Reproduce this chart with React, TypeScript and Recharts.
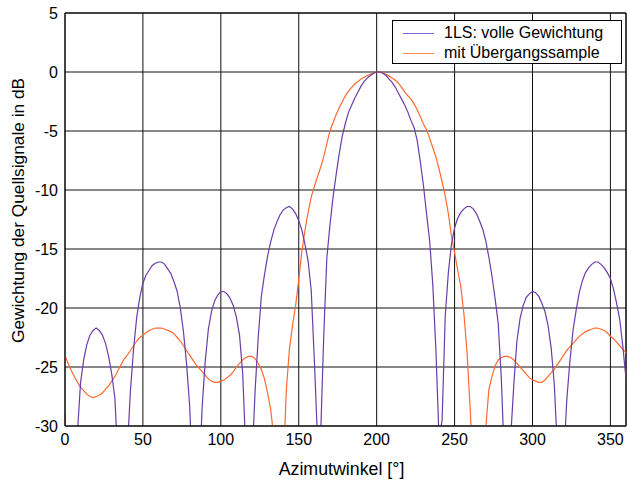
import {
  CartesianGrid,
  Legend,
  Line,
  LineChart,
  ReferenceLine,
  XAxis,
  YAxis,
} from "recharts";

// sampling grid of the azimuth in degrees (every 2°)
const angles: number[] = Array.from({ length: 181 }, (_, i) => i * 2);

// 1LS: volle Gewichtung, dB (values below -30 are clipped by the axis)
const volleGewichtung: number[] = [
  -29, -36, -40, -35, -30.5, -26.3, -24.4, -23.1, -22.3, -21.9,
  -21.7, -21.9, -22.3, -23.0, -24.1, -25.6, -27.6, -33, -40, -40,
  -32, -27.0, -23.5, -20.8, -19.1, -17.9, -17.2, -16.8, -16.4, -16.2,
  -16.1, -16.1, -16.3, -16.7, -17.1, -17.8, -18.6, -20.0, -22.0, -24.7,
  -28.3, -35, -40, -35, -28.4, -24.5, -21.8, -20.3, -19.4, -18.9,
  -18.6, -18.6, -18.8, -19.2, -19.8, -20.8, -22.3, -25.5, -32, -40,
  -33, -27, -22.5, -19, -17.2, -15.6, -14.4, -13.4, -12.7, -12.1,
  -11.7, -11.5, -11.4, -11.6, -12.0, -12.6, -13.4, -14.6, -16.0, -18.5,
  -24.4, -31, -31, -22.5, -15.8, -13.0, -10.6, -8.7, -6.9, -5.4,
  -4.3, -3.4, -2.8, -2.2, -1.7, -1.2, -0.8, -0.5, -0.3, -0.1,
  0, 0, -0.1, -0.3, -0.6, -0.9, -1.3, -1.8, -2.3, -2.8,
  -3.4, -4.1, -4.7, -5.8, -7.6, -9.6, -12.0, -14.3, -18.0, -23.5,
  -31, -29.5, -20.7, -17, -14.6, -13.2, -12.4, -11.9, -11.6, -11.4,
  -11.4, -11.6, -12.0, -12.6, -13.3, -14.3, -15.7, -17.3, -19.2, -21.3,
  -26, -33, -40, -31, -26.5, -22.8, -20.9, -19.8, -19.1, -18.8,
  -18.6, -18.7, -19.0, -19.6, -20.3, -21.5, -23.4, -26.5, -32, -40,
  -33, -27.8, -24.5, -21.9, -20.2, -18.7, -17.7, -17.0, -16.6, -16.3,
  -16.1, -16.1, -16.3, -16.6, -17.0, -17.5, -18.4, -19.6, -21.0, -23.3,
  -26,
];

// mit Übergangssample, dB
const mitUebergang: number[] = [
  -24.0, -24.7, -25.3, -25.8, -26.3, -26.7, -27.0, -27.3, -27.5, -27.6,
  -27.5, -27.4, -27.2, -26.9, -26.6, -26.2, -25.8, -25.3, -24.8, -24.3,
  -24.0, -23.6, -23.2, -22.8, -22.5, -22.3, -22.1, -21.9, -21.8, -21.7,
  -21.7, -21.7, -21.8, -21.9, -22.0, -22.2, -22.5, -22.8, -23.2, -23.6,
  -24.0, -24.4, -24.8, -25.1, -25.4, -25.7, -26.0, -26.2, -26.3, -26.3,
  -26.2, -26.1, -25.9, -25.7, -25.4, -25.0, -24.7, -24.4, -24.2, -24.1,
  -24.1, -24.3, -24.7, -25.2, -26.0, -27.2, -28.6, -31, -40, -40,
  -34, -27, -23.5, -21.5, -19.8, -17.6, -15.2, -13.4, -11.9, -10.6,
  -9.7, -8.9, -8.1, -7.2, -6.1, -5.0, -4.3, -3.6, -3.0, -2.5,
  -2.0, -1.6, -1.3, -1.0, -0.8, -0.6, -0.45, -0.3, -0.2, -0.1,
  0, 0, -0.1, -0.2, -0.35, -0.5, -0.7, -0.95, -1.3, -1.7,
  -2.0, -2.3, -2.7, -3.2, -3.8, -4.4, -4.9, -5.6, -6.4, -7.2,
  -8.2, -9.3, -10.5, -12.0, -13.9, -15.3, -16.8, -18.2, -20.5, -23.8,
  -28.5, -34, -40, -40, -36, -30.2, -26.9, -25.8, -24.9, -24.4,
  -24.2, -24.1, -24.1, -24.2, -24.4, -24.7, -25.0, -25.3, -25.6, -25.9,
  -26.1, -26.2, -26.3, -26.3, -26.1, -25.8, -25.5, -25.2, -24.8, -24.4,
  -24.0, -23.6, -23.3, -23.0, -22.7, -22.4, -22.2, -22.0, -21.9, -21.8,
  -21.7, -21.7, -21.8, -21.9, -22.1, -22.4, -22.6, -22.9, -23.2, -23.5,
  -23.8,
];

const xTicks = [0, 50, 100, 150, 200, 250, 300, 350];
const yTicks = [-30, -25, -20, -15, -10, -5, 0, 5];

const seriesNames = ["1LS: volle Gewichtung", "mit Übergangssample"];
const xTitle = "Azimutwinkel [°]";
const yTitle = "Gewichtung der Quellsignale in dB";
const PURPLE = "#6a3da8";
const ORANGE = "#ff6a2e";
const FONT = "'Liberation Sans', Arial, sans-serif";

const data = angles.map((angle, i) => ({
  angle,
  volle: volleGewichtung[i],
  uebergang: mitUebergang[i],
}));

function LegendBox() {
  const items = [
    { name: seriesNames[0], color: "#8060d0" },
    { name: seriesNames[1], color: "#ff8a5a" },
  ];
  return (
    <div
      style={{
        width: 230,
        height: 44,
        boxSizing: "border-box",
        border: "1px solid #000",
        background: "#fff",
        padding: "2px 0 0 10px",
        fontFamily: FONT,
        fontSize: 16,
        color: "#000",
      }}
    >
      {items.map((it) => (
        <div
          key={it.name}
          style={{ display: "flex", alignItems: "center", height: 20 }}
        >
          <span
            style={{
              display: "inline-block",
              width: 31,
              borderTop: `1px solid ${it.color}`,
              marginRight: 10,
            }}
          />
          <span>{it.name}</span>
        </div>
      ))}
    </div>
  );
}

// axis titles, placed relative to the plot box given by recharts
const XTitle = (props: any) => {
  const { x, width } = props.viewBox;
  return (
    <text
      x={x + width / 2 - 4}
      y={475}
      textAnchor="middle"
      fill="#000"
      fontSize={17.8}
      fontFamily={FONT}
    >
      {xTitle}
    </text>
  );
};

const YTitle = (props: any) => {
  const { y, height } = props.viewBox;
  const cy = y + height / 2 - 9;
  return (
    <text
      x={24}
      y={cy}
      transform={`rotate(-90, 24, ${cy})`}
      textAnchor="middle"
      fill="#000"
      fontSize={17.3}
      fontFamily={FONT}
    >
      {yTitle}
    </text>
  );
};

export default function App() {
  return (
    <div style={{ position: "absolute", left: 0, top: 0, background: "#fff" }}>
      <LineChart
        width={628}
        height={481}
        data={data}
        margin={{ top: 13, right: 2, left: 0, bottom: 0 }}
      >
        <CartesianGrid stroke="#111" strokeWidth={1} />
        <XAxis
          dataKey="angle"
          type="number"
          domain={[0, 360]}
          ticks={xTicks}
          allowDataOverflow
          height={55}
          tickLine={false}
          tickSize={6}
          tickMargin={2}
          axisLine={{ stroke: "#000" }}
          tick={{ fill: "#000", fontSize: 16, fontFamily: FONT }}
          label={{ content: XTitle }}
        />
        <YAxis
          type="number"
          domain={[-30, 5]}
          ticks={yTicks}
          allowDataOverflow
          width={65}
          tickLine={false}
          tickSize={5}
          tickMargin={2}
          axisLine={{ stroke: "#000" }}
          tick={{ fill: "#000", fontSize: 16, fontFamily: FONT }}
          label={{ content: YTitle }}
        />
        <ReferenceLine x={360} stroke="#000" />
        <ReferenceLine y={5} stroke="#000" />
        <Legend
          layout="vertical"
          align="center"
          verticalAlign="middle"
          content={() => <LegendBox />}
          wrapperStyle={{ left: 392, top: 20, width: 230 }}
        />
        <Line
          type="linear"
          dataKey="uebergang"
          name={seriesNames[1]}
          stroke={ORANGE}
          strokeWidth={1.2}
          dot={false}
          isAnimationActive={false}
        />
        <Line
          type="linear"
          dataKey="volle"
          name={seriesNames[0]}
          stroke={PURPLE}
          strokeWidth={1.2}
          dot={false}
          isAnimationActive={false}
        />
      </LineChart>
    </div>
  );
}
